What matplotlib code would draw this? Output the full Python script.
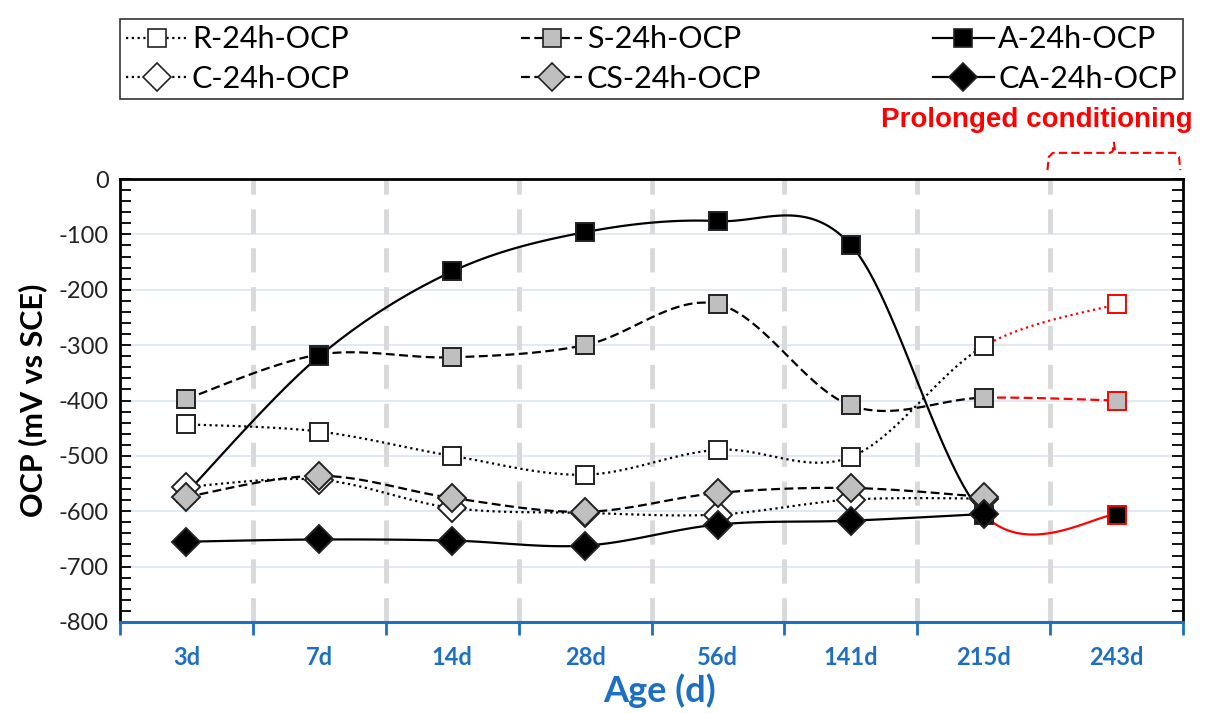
import numpy as np
import matplotlib
matplotlib.use("Agg")
import matplotlib.pyplot as plt
from matplotlib.lines import Line2D
import matplotlib.transforms as mtransforms

categories = ["3d", "7d", "14d", "28d", "56d", "141d", "215d", "243d"]

R_24h = [-443, -456, -500, -534, -489, -502, -302, -226]
S_24h = [-397, -317, -322, -300, -226, -409, -395, -400]
A_24h = [-567, -320, -167, -96, -76, -119, -606, -606]
C_24h = [-556, -543, -594, -603, -606, -579, -577]
CS_24h = [-574, -536, -576, -601, -567, -558, -574]
CA_24h = [-655, -651, -653, -662, -624, -617, -605]

series = [
    ("R-24h-OCP", R_24h, "s", "white", (0, (1, 1.6))),
    ("S-24h-OCP", S_24h, "s", "#BFBFBF", (0, (4, 2))),
    ("A-24h-OCP", A_24h, "s", "black", "-"),
    ("C-24h-OCP", C_24h, "D", "white", (0, (1, 1.6))),
    ("CS-24h-OCP", CS_24h, "D", "#BFBFBF", (0, (4, 2))),
    ("CA-24h-OCP", CA_24h, "D", "black", "-"),
]

BLUE = "#1C6FC2"
plt.rcParams["font.family"] = ["Lato", "DejaVu Sans"]
plt.rcParams["axes.unicode_minus"] = False


def smooth_segment(y, i, n=40):
    """Excel-like smoothed (cardinal Bezier) segment between points i and i+1."""
    x = np.arange(len(y), dtype=float)
    yy = np.asarray(y, dtype=float)
    m = len(y)
    i0, i1, i2, i3 = max(i - 1, 0), i, i + 1, min(i + 2, m - 1)
    P0 = np.array([x[i0], yy[i0]]); P1 = np.array([x[i1], yy[i1]])
    P2 = np.array([x[i2], yy[i2]]); P3 = np.array([x[i3], yy[i3]])
    C1 = P1 + (P2 - P0) / 6.0
    C2 = P2 - (P3 - P1) / 6.0
    t = np.linspace(0, 1, n)[:, None]
    pts = ((1 - t) ** 3) * P1 + 3 * ((1 - t) ** 2) * t * C1 + 3 * (1 - t) * t ** 2 * C2 + t ** 3 * P2
    return pts[:, 0], pts[:, 1]


fig = plt.figure(figsize=(12.05, 7.13), dpi=100)
ax = fig.add_axes([120 / 1205, 1 - 622 / 713, 1063 / 1205, 443 / 713])

handles = []
for k, (name, vals, mk, fc, ls) in enumerate(series):
    z = 3 + k
    ms = 13 if mk == "s" else 14
    for i in range(len(vals) - 1):
        xs, ys = smooth_segment(vals, i)
        col = "red" if i == 6 else "black"
        ax.plot(xs, ys, color=col, lw=1.6, ls=ls, zorder=z, solid_capstyle="butt")
    for i, v in enumerate(vals):
        ec = "red" if i == 7 else "#222222"
        ax.plot([i], [v], ls="none", marker=mk, ms=ms, mfc=fc, mec=ec, mew=1.4, zorder=z + 0.5)
    handles.append(Line2D([0], [0], color="black", lw=1.6, ls=ls, marker=mk,
                          ms=13 if mk == "s" else 14, mfc=fc, mec="#222222", mew=1.2))

ax.set_xlim(-0.5, 7.5)
ax.set_ylim(-800, 0)

# gridlines
ax.set_yticks(np.arange(-800, 1, 100))
ax.set_yticks(np.arange(-800, 1, 20), minor=True)
for yv in np.arange(-700, 0, 100):
    ax.axhline(yv, color="#DCE6F2", lw=1.2, zorder=1)
for xb in np.arange(0.5, 7.0, 1.0):
    ax.axvline(xb, color="#D9D9D9", lw=3.5, ls=(0, (5, 3)), zorder=1.5)

# x ticks: boundary marks, labels at category centers
ax.set_xticks(np.arange(-0.5, 7.6, 1.0))
ax.set_xticklabels([])
ax.set_xticks(np.arange(len(categories)), minor=True)
ax.set_xticklabels(categories, minor=True, color=BLUE, fontweight="bold", fontsize=17)
ax.tick_params(axis="x", which="major", direction="out", length=9, width=2, color=BLUE)
ax.tick_params(axis="x", which="minor", length=0, pad=17)
ax.tick_params(axis="y", which="both", direction="in", left=True, right=True, length=8, width=1.3, color="black")
ax.tick_params(axis="y", which="major", labelsize=17, labelcolor="#222222", pad=8)

for s in ["left", "right", "top"]:
    ax.spines[s].set_color("black")
    ax.spines[s].set_linewidth(2)
ax.spines["bottom"].set_color(BLUE)
ax.spines["bottom"].set_linewidth(2.2)

ax.set_xlabel("Age (d)", color=BLUE, fontweight="bold", fontsize=26, labelpad=0)
ax.xaxis.set_label_coords(0.508, -0.115)
ax.set_ylabel("OCP (mV vs SCE)", fontweight="bold", fontsize=22, labelpad=8)

# legend
order = [0, 3, 1, 4, 2, 5]
leg = fig.legend([handles[i] for i in order], [series[i][0] for i in order], ncol=3,
                 loc="lower left", bbox_to_anchor=(120 / 1205, 1 - 99 / 713, 1063 / 1205, 94 / 713),
                 mode="expand", borderaxespad=0, frameon=True, fancybox=False, edgecolor="black",
                 fontsize=22, handlelength=2.0, handletextpad=0.15, borderpad=0.2, labelspacing=0.38,
                 columnspacing=1.0)
leg.get_frame().set_linewidth(1.2)

# "Prolonged conditioning" annotation with bracket
trans = mtransforms.blended_transform_factory(ax.transData, ax.transAxes)
ax.text(6.40, 1.133, "Prolonged conditioning", transform=trans, color="red",
        fontweight="bold", fontsize=20, ha="center", va="center", family=["Liberation Sans", "DejaVu Sans"])
verts = [(6.48, 1.02), (6.49, 1.05), (6.52, 1.059), (6.95, 1.059), (6.97, 1.062), (6.98, 1.082),
         (6.99, 1.062), (7.01, 1.059), (7.44, 1.059), (7.47, 1.05), (7.48, 1.02)]
ax.plot([v[0] for v in verts], [v[1] for v in verts], transform=trans, color="red", lw=1.5,
        ls=(0, (4, 2)), clip_on=False)

fig.savefig("out.png", dpi=100)
